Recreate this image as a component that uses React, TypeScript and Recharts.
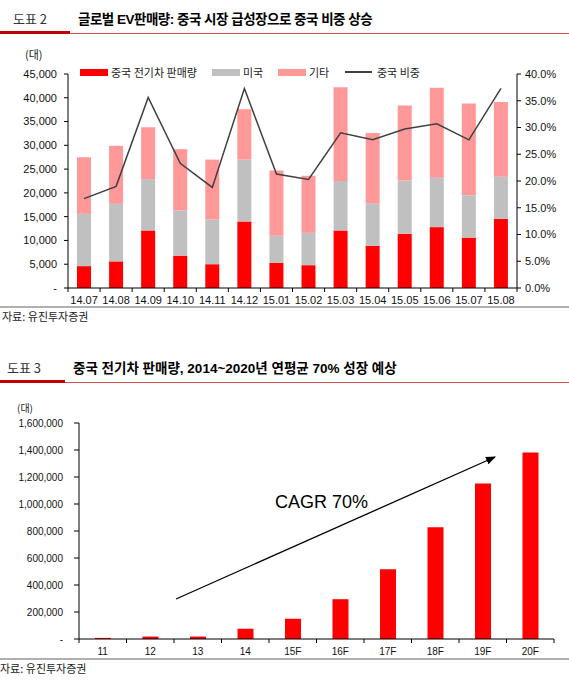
import React from 'react';
import {
  ComposedChart,
  BarChart,
  Bar,
  Line,
  XAxis,
  YAxis,
} from 'recharts';

// 도표 2 데이터
const months = ['14.07', '14.08', '14.09', '14.10', '14.11', '14.12', '15.01', '15.02', '15.03', '15.04', '15.05', '15.06', '15.07', '15.08'];
const chinaEv = [4600, 5600, 12100, 6800, 5000, 14000, 5300, 4800, 12100, 8900, 11400, 12800, 10600, 14500];
const usEv = [11000, 12100, 10800, 9500, 9400, 13000, 5700, 6800, 10400, 8800, 11200, 10400, 8900, 8900];
const otherEv = [11900, 12200, 10900, 12900, 12600, 10600, 13700, 12000, 19700, 14900, 15800, 18900, 19300, 15700];
const chinaShare = [16.7, 19.0, 35.6, 23.3, 18.8, 37.3, 21.3, 20.3, 29.0, 27.7, 29.7, 30.7, 27.7, 37.3];
const leftTicks = [0, 5000, 10000, 15000, 20000, 25000, 30000, 35000, 40000, 45000];
const rightTicks = [0, 5, 10, 15, 20, 25, 30, 35, 40];

// 도표 3 데이터
const years = ['11', '12', '13', '14', '15F', '16F', '17F', '18F', '19F', '20F'];
const chinaSales = [8000, 18000, 18000, 76000, 150000, 295000, 517000, 827000, 1152000, 1381000];
const salesTicks = [0, 200000, 400000, 600000, 800000, 1000000, 1200000, 1400000, 1600000];

const evData = months.map((m, i) => ({
  month: m,
  china: chinaEv[i],
  us: usEv[i],
  other: otherEv[i],
  share: chinaShare[i],
}));

const salesData = years.map((y, i) => ({ year: y, sales: chinaSales[i] }));

const FONT = "'Liberation Sans', Arial, 'Noto Sans CJK KR', sans-serif";
const KR = "'Noto Sans CJK KR', sans-serif";

const num = (v: number) => (v === 0 ? '-' : v.toLocaleString('en-US'));

// 카테고리 경계에 눈금을 그리는 x축 tick
const BoundaryTick = ({ x, y, payload, index, half, count, fontSize }: any) => (
  <g>
    <line x1={x - half} y1={y} x2={x - half} y2={y + 4} stroke="#000" />
    {index === count - 1 && <line x1={x + half} y1={y} x2={x + half} y2={y + 4} stroke="#000" />}
    <text x={x} y={y + 12} textAnchor="middle" dominantBaseline="central" fontSize={fontSize} fill="#111" fontFamily={FONT}>
      {payload.value}
    </text>
  </g>
);

const Header = ({ top, label, labelLeft, titleLeft, title, barWidth, spacing }: any) => (
  <div style={{ position: 'absolute', left: 0, top, width: 569, height: 30 }}>
    <div style={{ position: 'absolute', left: labelLeft, top: 2, fontFamily: KR, fontSize: 13, color: '#333' }}>{label}</div>
    <div style={{ position: 'absolute', left: titleLeft, top: 1, fontFamily: FONT, fontSize: 13.5, fontWeight: 700, color: '#000', whiteSpace: 'nowrap', letterSpacing: spacing }}>{title}</div>
    <div style={{ position: 'absolute', left: 0, top: 24, width: barWidth, height: 3, background: '#c00000' }} />
    <div style={{ position: 'absolute', left: barWidth, top: 26, width: 569 - barWidth, height: 1, background: '#d05050' }} />
  </div>
);

const LegendItem = ({ left, color, label, line }: any) => (
  <div style={{ position: 'absolute', left, top: 64, display: 'flex', alignItems: 'center', fontFamily: KR, fontSize: 11, color: '#222' }}>
    {line ? (
      <div style={{ width: 27, height: 1.5, background: '#404040', marginRight: 5 }} />
    ) : (
      <div style={{ width: 28, height: 7, background: color, marginRight: 3 }} />
    )}
    <span>{label}</span>
  </div>
);

export default function App() {
  return (
    <div style={{ position: 'absolute', left: 0, top: 0, width: 569, height: 680, background: '#fff', overflow: 'hidden' }}>
      {/* 도표 2 */}
      <Header top={7} label="도표 2" labelLeft={13} titleLeft={78} spacing={-0.5} title="글로벌 EV판매량: 중국 시장 급성장으로 중국 비중 상승" barWidth={70} />
      <div style={{ position: 'absolute', left: 25, top: 46, fontFamily: KR, fontSize: 11, color: '#222' }}>(대)</div>
      <LegendItem left={80} color="#ff0000" label="중국 전기차 판매량" />
      <LegendItem left={212} color="#c0c0c0" label="미국" />
      <LegendItem left={278} color="#ff9999" label="기타" />
      <LegendItem left={345} line label="중국 비중" />
      <div style={{ position: 'absolute', left: 0, top: 0 }}>
        <ComposedChart width={569} height={310} data={evData} margin={{ top: 74, right: 0, bottom: 2, left: 8 }}>
          <XAxis
            dataKey="month"
            axisLine={{ stroke: '#000' }}
            tickLine={false}
            tickSize={0}
            tickMargin={0}
            height={20}
            interval={0}
            tick={<BoundaryTick half={449 / 14 / 2} count={months.length} fontSize={11} />}
          />
          <YAxis
            yAxisId="left"
            width={60}
            domain={[0, 45000]}
            ticks={leftTicks}
            interval={0}
            tickFormatter={num}
            axisLine={{ stroke: '#000' }}
            tickLine={{ stroke: '#000' }}
            tickSize={4}
            tickMargin={7}
            tick={{ fontSize: 11, fill: '#111', fontFamily: FONT }}
          />
          <YAxis
            yAxisId="right"
            orientation="right"
            width={52}
            domain={[0, 40]}
            ticks={rightTicks}
            interval={0}
            tickFormatter={(v) => `${v.toFixed(1)}%`}
            axisLine={{ stroke: '#000' }}
            tickLine={{ stroke: '#000' }}
            tickSize={4}
            tickMargin={4}
            tick={{ fontSize: 11, fill: '#111', fontFamily: FONT, textAnchor: 'start' }}
          />
          <Bar yAxisId="left" dataKey="china" stackId="ev" fill="#ff0000" barSize={14} isAnimationActive={false} />
          <Bar yAxisId="left" dataKey="us" stackId="ev" fill="#c0c0c0" barSize={14} isAnimationActive={false} />
          <Bar yAxisId="left" dataKey="other" stackId="ev" fill="#ff9999" barSize={14} isAnimationActive={false} />
          <Line yAxisId="right" dataKey="share" type="linear" stroke="#404040" strokeWidth={1.5} dot={false} isAnimationActive={false} />
        </ComposedChart>
      </div>
      <div style={{ position: 'absolute', left: 0, top: 306, width: 569, height: 1.5, background: '#b0b0b0' }} />
      <div style={{ position: 'absolute', left: 2, top: 308, fontFamily: KR, fontSize: 11, color: '#222' }}>자료: 유진투자증권</div>

      {/* 도표 3 */}
      <Header top={356} label="도표 3" labelLeft={7} titleLeft={73} spacing={0} title="중국 전기차 판매량, 2014~2020년 연평균 70% 성장 예상" barWidth={65} />
      <div style={{ position: 'absolute', left: 17, top: 400, fontFamily: KR, fontSize: 10, color: '#222' }}>(대)</div>
      <div style={{ position: 'absolute', left: 0, top: 400 }}>
        <BarChart width={569} height={262} data={salesData} margin={{ top: 23, right: 15, bottom: 3, left: 8 }}>
          <XAxis
            dataKey="year"
            axisLine={{ stroke: '#000' }}
            tickLine={false}
            tickSize={0}
            tickMargin={0}
            height={20}
            interval={0}
            tick={<BoundaryTick half={475 / 10 / 2} count={years.length} fontSize={10} />}
          />
          <YAxis
            width={71}
            domain={[0, 1600000]}
            ticks={salesTicks}
            interval={0}
            tickFormatter={num}
            axisLine={{ stroke: '#000' }}
            tickLine={{ stroke: '#000' }}
            tickSize={5}
            tickMargin={11}
            tick={{ fontSize: 10, fill: '#111', fontFamily: FONT }}
          />
          <Bar dataKey="sales" fill="#ff0000" barSize={16} isAnimationActive={false} />
        </BarChart>
      </div>
      <svg width={569} height={680} style={{ position: 'absolute', left: 0, top: 0, pointerEvents: 'none' }}>
        <defs>
          <marker id="arrow" markerWidth="10" markerHeight="8" refX="9" refY="4" orient="auto" markerUnits="userSpaceOnUse">
            <path d="M0,0 L10,4 L0,8 z" fill="#000" />
          </marker>
        </defs>
        <line x1={176} y1={599} x2={495} y2={457} stroke="#000" strokeWidth={1.3} markerEnd="url(#arrow)" />
        <text x={275} y={508} fontSize={18} fontFamily={FONT} fill="#000">CAGR 70%</text>
      </svg>
      <div style={{ position: 'absolute', left: 0, top: 658, width: 569, height: 1.5, background: '#b0b0b0' }} />
      <div style={{ position: 'absolute', left: 0, top: 660, fontFamily: KR, fontSize: 11, color: '#222' }}>자료: 유진투자증권</div>
    </div>
  );
}
